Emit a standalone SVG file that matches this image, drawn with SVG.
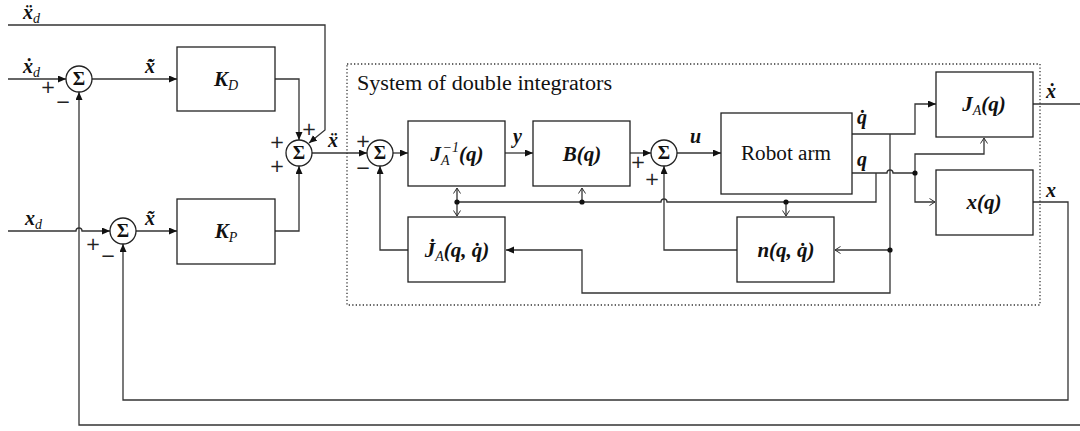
<svg xmlns="http://www.w3.org/2000/svg" width="1080" height="431" viewBox="0 0 1080 431">
<style>
.box{fill:#fff;stroke:#222;stroke-width:1.3}
.sum{fill:#fff;stroke:#222;stroke-width:1.3}
.w{fill:none;stroke:#333;stroke-width:1.3}
.m{font-family:"Liberation Serif",serif;font-weight:bold;font-style:italic;font-size:20px;fill:#111}
.bm{font-family:"Liberation Serif",serif;font-weight:bold;font-style:italic;font-size:21px;fill:#111;text-anchor:middle}
.sub{font-weight:normal;font-size:14px}
.sg{font-family:"DejaVu Sans",sans-serif;font-size:18px;fill:#222;text-anchor:middle}
.S{font-family:"Liberation Serif",serif;font-weight:bold;font-size:19px;fill:#111;text-anchor:middle}
.t{font-family:"Liberation Serif",serif;font-size:20px;fill:#111}
.dot{fill:#111}
</style>
<defs>
<marker id="a" markerUnits="userSpaceOnUse" markerWidth="10" markerHeight="8" refX="8" refY="3.5" orient="auto"><path d="M0,0 L8,3.5 L0,7 z" fill="#111"/></marker>
<marker id="o" markerUnits="userSpaceOnUse" markerWidth="10" markerHeight="10" refX="6" refY="4" orient="auto"><path d="M0.5,0.5 L6,4 L0.5,7.5" fill="none" stroke="#333" stroke-width="1"/></marker>
</defs>

<rect id="system-boundary" x="347" y="64" width="693" height="241" fill="none" stroke="#333" stroke-width="1.3" stroke-dasharray="1.3,2.2"/>
<text class="t" x="357" y="90" textLength="255" lengthAdjust="spacingAndGlyphs">System of double integrators</text>

<g id="connectors">
<path class="w" d="M8,25 H325 V130 L309,143" marker-end="url(#a)"/>
<path class="w" d="M8,79 H66" marker-end="url(#a)"/>
<path class="w" d="M92,79 H177" marker-end="url(#a)"/>
<path class="w" d="M275,79 H299 V140" marker-end="url(#a)"/>
<path class="w" d="M8,231 H76 a3,3 0 0 1 6,0 H110" marker-end="url(#a)"/>
<path class="w" d="M136,231 H177" marker-end="url(#a)"/>
<path class="w" d="M275,231 H299 V166" marker-end="url(#a)"/>
<path class="w" d="M312,153 H367" marker-end="url(#a)"/>
<path class="w" d="M393,153 H408" marker-end="url(#a)"/>
<path class="w" d="M505,153 H533" marker-end="url(#a)"/>
<path class="w" d="M630,153 H651" marker-end="url(#a)"/>
<path class="w" d="M677,153 H721" marker-end="url(#a)"/>
<path class="w" d="M852,134 H915 V104 H936" marker-end="url(#a)"/>
<path class="w" d="M890,134 V293 H582 V250 H506" marker-end="url(#a)"/>
<path class="w" d="M890,250 H835" marker-end="url(#o)"/>
<path class="w" d="M852,173 H887 a3,3 0 0 1 6,0 H915 V154 H984 V138" marker-end="url(#o)"/>
<path class="w" d="M915,173 V202 H935" marker-end="url(#o)"/>
<path class="w" d="M876,173 V202 H667 a3,3 0 0 0 -6,0 H457"/>
<path class="w" d="M457,202 V188" marker-end="url(#o)"/>
<path class="w" d="M457,202 V216" marker-end="url(#o)"/>
<path class="w" d="M582,202 V188" marker-end="url(#o)"/>
<path class="w" d="M786,202 V216" marker-end="url(#o)"/>
<path class="w" d="M737,250 H664 V166" marker-end="url(#a)"/>
<path class="w" d="M408,250 H380 V166" marker-end="url(#a)"/>
<path class="w" d="M1033,104 H1080"/>
<path class="w" d="M1033,202 H1068 V400 H123 V244" marker-end="url(#a)"/>
<path class="w" d="M1080,425 H79 V92" marker-end="url(#a)"/>
<circle class="dot" cx="457" cy="202" r="2.6"/>
<circle class="dot" cx="582" cy="202" r="2.6"/>
<circle class="dot" cx="786" cy="202" r="2.6"/>
<circle class="dot" cx="890" cy="250" r="2.6"/>
<circle class="dot" cx="915" cy="173" r="2.6"/>
</g>

<g id="labels">
<text class="m" x="23" y="19">ẍ<tspan class="sub" dy="4">d</tspan></text>
<text class="m" x="23" y="73">ẋ<tspan class="sub" dy="4">d</tspan></text>
<text class="m" x="145" y="73">x̃̇</text>
<text class="m" x="25" y="225">x<tspan class="sub" dy="4">d</tspan></text>
<text class="m" x="145" y="225">x̃</text>
<text class="m" x="328" y="147">ẍ</text>
<text class="m" x="513" y="143">y</text>
<text class="m" x="690" y="143">u</text>
<text class="m" x="857" y="124">q̇</text>
<text class="m" x="857" y="166">q</text>
<text class="m" x="1046" y="98">ẋ</text>
<text class="m" x="1046" y="197">x</text>
<text class="sg" x="48" y="93">+</text>
<text class="sg" x="63" y="108">−</text>
<text class="sg" x="93" y="250">+</text>
<text class="sg" x="108" y="262">−</text>
<text class="sg" x="277" y="148">+</text>
<text class="sg" x="277" y="172">+</text>
<text class="sg" x="309" y="135">+</text>
<text class="sg" x="363" y="147">+</text>
<text class="sg" x="363" y="174">−</text>
<text class="sg" x="638" y="168">+</text>
<text class="sg" x="652" y="185">+</text>
</g>

<g id="sum1"><circle class="sum" cx="79" cy="79" r="13"/><text class="S" x="79" y="85">Σ</text></g>
<g id="sum2"><circle class="sum" cx="299" cy="153" r="13"/><text class="S" x="299" y="159">Σ</text></g>
<g id="sum3"><circle class="sum" cx="380" cy="153" r="13"/><text class="S" x="380" y="159">Σ</text></g>
<g id="sum4"><circle class="sum" cx="664" cy="153" r="13"/><text class="S" x="664" y="159">Σ</text></g>
<g id="sum5"><circle class="sum" cx="123" cy="231" r="13"/><text class="S" x="123" y="237">Σ</text></g>

<g id="KD"><rect class="box" x="177" y="47" width="98" height="64"/><text class="bm" x="226" y="86">K<tspan class="sub" dy="4">D</tspan></text></g>
<g id="KP"><rect class="box" x="177" y="199" width="98" height="65"/><text class="bm" x="226" y="238">K<tspan class="sub" dy="4">P</tspan></text></g>
<g id="JAinv"><rect class="box" x="408" y="121" width="97" height="65"/><text class="bm" x="457" y="161">J<tspan class="sub" dy="4">A</tspan><tspan class="sub" dx="-7" dy="-13">−1</tspan><tspan dy="9">(q)</tspan></text></g>
<g id="Bq"><rect class="box" x="533" y="121" width="97" height="65"/><text class="bm" x="582" y="161">B(q)</text></g>
<g id="robot"><rect class="box" x="721" y="113" width="131" height="81"/><text class="t" x="786" y="160" text-anchor="middle" textLength="90" lengthAdjust="spacingAndGlyphs">Robot arm</text></g>
<g id="JAq"><rect class="box" x="936" y="72" width="97" height="65"/><text class="bm" x="984" y="111">J<tspan class="sub" dy="4">A</tspan><tspan dy="-4">(q)</tspan></text></g>
<g id="xq"><rect class="box" x="936" y="170" width="97" height="65"/><text class="bm" x="984" y="209">x(q)</text></g>
<g id="JAdot"><rect class="box" x="408" y="217" width="97" height="65"/><text class="bm" x="457" y="257">J̇<tspan class="sub" dy="4">A</tspan><tspan dy="-4">(q, q̇)</tspan></text></g>
<g id="nq"><rect class="box" x="737" y="217" width="97" height="65"/><text class="bm" x="786" y="257">n(q, q̇)</text></g>
</svg>
